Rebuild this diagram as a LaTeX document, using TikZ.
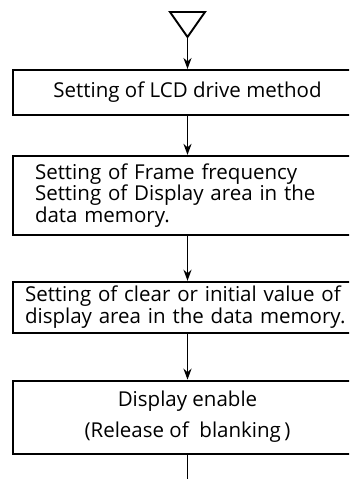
\documentclass[tikz,border=0pt]{standalone}
\usepackage{fontspec}
\setmainfont{Open Sans}
\usetikzlibrary{positioning,arrows.meta}

\begin{document}
\begin{tikzpicture}[x=1pt,y=1pt,>={Stealth[length=11pt,width=8pt,inset=3.5pt]},line width=1.9pt,node distance=39pt,
    box/.style={rectangle,draw,minimum width=349pt,font=\fontsize{20.5}{20}\selectfont,inner sep=0pt}]

                \useasboundingbox (0,0) rectangle (349,-479);
                \clip (0,0) rectangle (349,-479);

                \draw (170,-12) -- (205,-12) -- (187.5,-37) -- cycle;
                \coordinate (apex) at (187.5,-37);
                \coordinate (end) at (187.5,-479);

                \node[box, minimum height=45pt] (lcd) [below=32pt of apex]{Setting of LCD drive method};
                \node[box, minimum height=79pt, text width=305pt, align=left] (frame) [below=of lcd]{Setting of Frame frequency\\Setting of Display area in the\\data memory.};
                \node[box, minimum height=51pt, text width=325pt, align=left, font=\fontsize{20.5}{18}\selectfont] (clear) [below=45pt of frame]{Setting of clear or initial value of\\display area in the data memory.};
                \node[box, minimum height=73pt, align=center, font=\fontsize{20.5}{31}\selectfont] (enable) [below=46pt of clear]{Display enable\\(Release of~ blanking\,)};

                \draw[->] (apex) to (lcd);
                \draw[->] (lcd) to (frame);
                \draw[->] (frame) to (clear);
                \draw[->] (clear) to (enable);
                \draw[-] (enable) to (end);

\end{tikzpicture}
\end{document}
